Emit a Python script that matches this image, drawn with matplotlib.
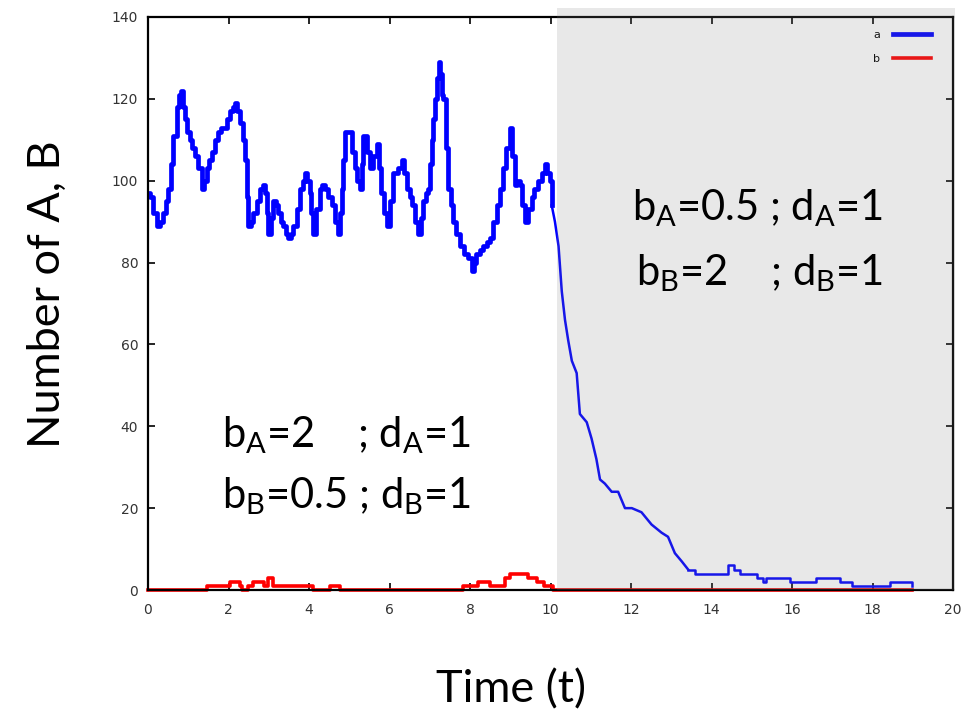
import numpy as np
import matplotlib
matplotlib.use('Agg')
import matplotlib.pyplot as plt
from matplotlib.patches import Rectangle

# species A (blue): time, count
t_a = [0.0, 0.05, 0.12, 0.22, 0.3, 0.38, 0.45, 0.5, 0.57, 0.63, 0.71, 0.76, 0.81, 0.87, 0.92,
       0.98, 1.04, 1.1, 1.17, 1.25, 1.33, 1.4, 1.46, 1.52, 1.58, 1.66, 1.74, 1.82, 1.91, 1.97,
       2.04, 2.1, 2.16, 2.22, 2.29, 2.35, 2.41, 2.46, 2.49, 2.55, 2.61, 2.7, 2.78, 2.85, 2.91,
       2.95, 2.99, 3.05, 3.11, 3.17, 3.23, 3.3, 3.36, 3.42, 3.48, 3.55, 3.61, 3.7, 3.78, 3.84,
       3.9, 3.96, 4.02, 4.06, 4.1, 4.18, 4.27, 4.33, 4.4, 4.48, 4.56, 4.65, 4.73, 4.78, 4.81,
       4.85, 4.89, 4.95, 5.02, 5.08, 5.14, 5.2, 5.27, 5.31, 5.35, 5.43, 5.52, 5.6, 5.68, 5.74,
       5.8, 5.87, 5.93, 6.0, 6.09, 6.2, 6.3, 6.36, 6.43, 6.5, 6.55, 6.63, 6.72, 6.78, 6.84,
       6.9, 6.96, 7.01, 7.05, 7.09, 7.13, 7.18, 7.22, 7.26, 7.3, 7.33, 7.4, 7.46, 7.52, 7.58,
       7.66, 7.75, 7.85, 7.96, 8.04, 8.1, 8.16, 8.25, 8.33, 8.42, 8.5, 8.58, 8.66, 8.75, 8.83,
       8.9, 8.99, 9.05, 9.12, 9.18, 9.24, 9.3, 9.37, 9.45, 9.53, 9.6, 9.7, 9.78, 9.86, 9.92,
       9.99, 10.03, 10.11, 10.2, 10.28, 10.36, 10.44, 10.53, 10.65, 10.73, 10.9, 11.02, 11.14,
       11.23, 11.35, 11.52, 11.68, 11.85, 12.02, 12.26, 12.51, 12.76, 12.92, 13.09, 13.26,
       13.42, 13.6, 14.0, 14.4, 14.55, 14.7, 14.87, 15.12, 15.29, 15.36, 15.7, 15.95, 16.6,
       17.0, 17.19, 17.5, 18.43, 18.85, 18.97]
a = [97, 96, 92, 89, 90, 92, 95, 98, 104, 111, 118, 121, 122, 118, 115,
     112, 110, 108, 106, 103, 98, 100, 103, 105, 107, 110, 112, 113, 113, 115,
     117, 118, 119, 117, 114, 110, 105, 96, 89, 90, 92, 95, 98, 99, 97,
     92, 87, 91, 95, 94, 92, 90, 89, 87, 86, 87, 89, 93, 98, 100,
     102, 100, 97, 92, 87, 93, 98, 99, 98, 96, 94, 90, 87, 92, 98,
     105, 112, 112, 112, 107, 103, 100, 98, 104, 111, 107, 103, 106, 109, 103,
     97, 92, 89, 95, 102, 103, 105, 102, 98, 96, 94, 90, 87, 91, 95,
     97, 98, 104, 110, 115, 120, 125, 129, 126, 121, 120, 108, 98, 94, 90,
     87, 84, 82, 81, 78, 80, 82, 83, 84, 85, 86, 90, 94, 98, 103,
     108, 113, 106, 99, 100, 99, 94, 90, 93, 96, 98, 100, 102, 104, 102,
     100, 94, 90, 84, 73, 66, 61, 56, 53, 43, 41, 37, 32,
     27, 26, 24, 24, 20, 20, 19, 16, 14, 13, 9, 7,
     5, 4, 4, 6, 5, 4, 4, 3, 2, 3, 3, 2, 3,
     3, 2, 1, 2, 2, 1]

# species B (red)
t_b = [0.0, 1.46, 2.04, 2.29, 2.33, 2.49, 2.62, 2.87, 2.99, 3.11, 4.11, 4.52, 4.77,
       7.83, 8.21, 8.5, 8.87, 8.99, 9.45, 9.66, 9.85, 10.05, 18.97]
b = [0, 1, 2, 1, 0, 1, 2, 1, 3, 1, 0, 1, 0,
     1, 2, 1, 3, 4, 3, 2, 1, 0, 0]

x_ticks = [0, 2, 4, 6, 8, 10, 12, 14, 16, 18, 20]
y_ticks = [0, 20, 40, 60, 80, 100, 120, 140]

plt.rcParams['mathtext.fontset'] = 'custom'
plt.rcParams['mathtext.rm'] = 'Lato'
plt.rcParams['mathtext.it'] = 'Lato'

fig = plt.figure(figsize=(9.65, 7.11), dpi=100)
ax = fig.add_axes([148 / 965, 121 / 711, 805 / 965, 573 / 711])

# noisy phase thick steps, decay thinner, low-count tail as steps
i1 = t_a.index(10.03)
i2 = t_a.index(13.42)
ax.plot(t_a[:i1 + 1], a[:i1 + 1], color='#0000ff', lw=3.4, drawstyle='steps-post', label='a')
ax.plot(t_a[i1:i2 + 1], a[i1:i2 + 1], color='#0000ff', lw=1.8)
ax.plot(t_a[i2:], a[i2:], color='#0000ff', lw=1.8, drawstyle='steps-post')
ax.plot(t_b, b, color='#ff0000', lw=2.6, drawstyle='steps-post', label='b', clip_on=False)

ax.set_xlim(0, 20)
ax.set_ylim(0, 140)
ax.set_xticks(x_ticks)
ax.set_yticks(y_ticks)
ax.tick_params(direction='in', length=5, width=1.2, top=True, right=True,
               labelsize=10, labelcolor='#333333')
ax.tick_params(axis='x', pad=9)
ax.tick_params(axis='y', pad=7)
for s in ax.spines.values():
    s.set_linewidth(1.6)

leg = ax.legend(loc='upper right', bbox_to_anchor=(0.985, 0.995), frameon=False,
                markerfirst=False, fontsize=8, handlelength=3.4, handletextpad=1.2,
                labelspacing=1.3)
leg.set_zorder(3)

# grey shaded region (second parameter set)
ax.add_patch(Rectangle((0.508, 0), 0.4945, 1.016, transform=ax.transAxes,
                       facecolor='#808080', alpha=0.18, lw=0, clip_on=False, zorder=4))

txt = dict(fontsize=30, family='Lato', color='black', ha='left', va='baseline', zorder=6)
ax.text(12.02, 90.4, r'b$_\mathrm{A}$=0.5 ; d$_\mathrm{A}$=1', **txt)
ax.text(12.12, 74.5, r'b$_\mathrm{B}$=2    ; d$_\mathrm{B}$=1', **txt)
ax.text(1.84, 34.9, r'b$_\mathrm{A}$=2    ; d$_\mathrm{A}$=1', **txt)
ax.text(1.84, 20.0, r'b$_\mathrm{B}$=0.5 ; d$_\mathrm{B}$=1', **txt)

ax.set_xlabel('Time (t)', fontsize=32.5, family='Lato', va='center')
ax.set_ylabel('Number of A, B', fontsize=32.5, family='Lato', va='center')
ax.xaxis.set_label_coords((511 - 148) / 805, -100 / 573)
ax.yaxis.set_label_coords(-101 / 805, (590 - 294) / 573)

fig.savefig('out.png', dpi=100)
